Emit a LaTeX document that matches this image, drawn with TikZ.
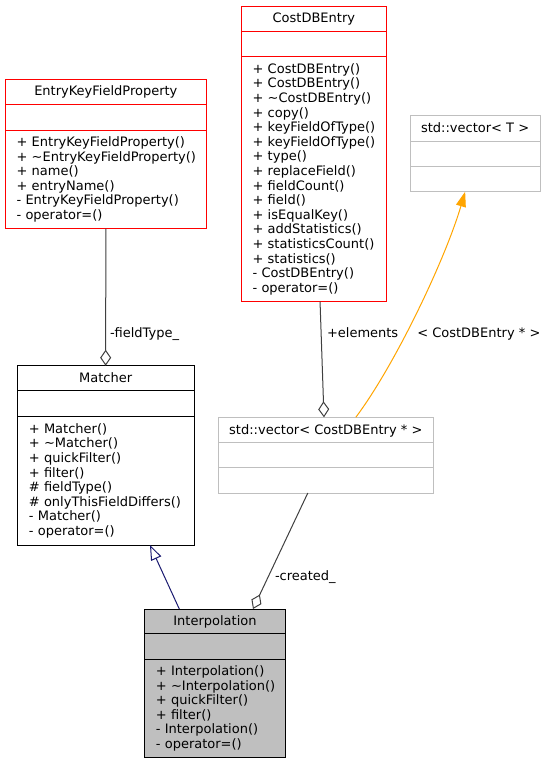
\documentclass[tikz,border=0pt]{standalone}
\usepackage{fontspec}
\setmainfont{DejaVu Sans}
\usetikzlibrary{arrows.meta}
\definecolor{edgegray}{HTML}{404040}
\definecolor{extgray}{HTML}{BFBFBF}
\definecolor{inhblue}{HTML}{191970}
\definecolor{tplorange}{HTML}{FFA500}
\definecolor{boxred}{HTML}{FF0000}
\begin{document}
\begin{tikzpicture}[x=1pt,y=-1pt,
  every node/.style={font=\fontsize{13}{14.6}\selectfont, inner sep=0pt, outer sep=0pt},
  secbase/.style={line width=1pt, anchor=north west},
  redsec/.style={secbase, draw=boxred},
  graysec/.style={secbase, draw=extgray},
  blacksec/.style={secbase, draw=black},
  cursec/.style={secbase, draw=black, fill=extgray},
  ttl/.style={text height=8pt, text depth=0pt},
  members/.style={align=left, inner xsep=11.5pt,
    execute at begin node={\hyphenpenalty=10000\exhyphenpenalty=10000\hbadness=10000\hfuzz=100pt}},
  lbl/.style={anchor=base west},
  assoc/.style={draw=edgegray, line width=1pt, -{Diamond[open, length=16pt, width=11pt]}},
  inh/.style={draw=inhblue, line width=1pt, -{Triangle[open, length=15pt, width=11pt]}},
  tpl/.style={draw=tplorange, line width=1pt, -{Triangle[length=15pt, width=10pt]}}
]
\fill[white] (0,0) rectangle (546,764);
\useasboundingbox (0,0) rectangle (546,764);

% EntryKeyFieldProperty
\node[redsec, ttl, minimum width=201.7pt, minimum height=25.3pt] (ekfpT) at (5,79) {EntryKeyFieldProperty};
\node[redsec, minimum width=201.7pt, minimum height=25.7pt] (ekfpA) at (5,104.3) {};
\node[redsec, members, text width=178.7pt, minimum height=98.7pt] (ekfpM) at (5,130) {%
+~EntryKeyFieldProperty()\\
+~\textasciitilde EntryKeyFieldProperty()\\
+~name()\\
+~entryName()\\
-~EntryKeyFieldProperty()\\
-~operator=()};

% CostDBEntry
\node[redsec, ttl, minimum width=145.7pt, minimum height=25.7pt] (cdbT) at (241,6) {CostDBEntry};
\node[redsec, minimum width=145.7pt, minimum height=25pt] (cdbA) at (241,31.7) {};
\node[redsec, members, text width=122.7pt, minimum height=245pt] (cdbM) at (241,56.7) {%
+~CostDBEntry()\\
+~CostDBEntry()\\
+~\textasciitilde CostDBEntry()\\
+~copy()\\
+~keyFieldOfType()\\
+~keyFieldOfType()\\
+~type()\\
+~replaceField()\\
+~fieldCount()\\
+~field()\\
+~isEqualKey()\\
+~addStatistics()\\
+~statisticsCount()\\
+~statistics()\\
-~CostDBEntry()\\
-~operator=()};

% std::vector< T >
\node[graysec, ttl, minimum width=129.7pt, minimum height=26pt] (vecTT) at (410.3,115.7) {std::vector<~T~>};
\node[graysec, minimum width=129.7pt, minimum height=25pt] (vecTA) at (410.3,141.7) {};
\node[graysec, minimum width=129.7pt, minimum height=25pt] (vecTM) at (410.3,166.7) {};

% Matcher
\node[blacksec, ttl, minimum width=176.7pt, minimum height=25pt] (matT) at (17.3,365.7) {Matcher};
\node[blacksec, minimum width=176.7pt, minimum height=26pt] (matA) at (17.3,390.7) {};
\node[blacksec, members, text width=153.7pt, minimum height=128.3pt] (matM) at (17.3,416.7) {%
+~Matcher()\\
+~\textasciitilde Matcher()\\
+~quickFilter()\\
+~filter()\\
\#~fieldType()\\
\#~onlyThisFieldDiffers()\\
-~Matcher()\\
-~operator=()};

% std::vector< CostDBEntry * >
\node[graysec, ttl, minimum width=215pt, minimum height=25.4pt] (vecCT) at (218.3,417.3) {std::vector<~CostDBEntry~*~>};
\node[graysec, minimum width=215pt, minimum height=25pt] (vecCA) at (218.3,442.7) {};
\node[graysec, minimum width=215pt, minimum height=25.3pt] (vecCM) at (218.3,467.7) {};

% Interpolation
\node[cursec, ttl, minimum width=141.4pt, minimum height=24.7pt] (intT) at (144.3,609) {Interpolation};
\node[cursec, minimum width=141.4pt, minimum height=25.3pt] (intA) at (144.3,633.7) {};
\node[cursec, members, text width=118.4pt, minimum height=98.7pt] (intM) at (144.3,659) {%
+~Interpolation()\\
+~\textasciitilde Interpolation()\\
+~quickFilter()\\
+~filter()\\
-~Interpolation()\\
-~operator=()};

% connectors
\draw[assoc] (ekfpM.south) -- (matT.north);
\node[lbl] (lft) at (110,337) {-fieldType\_};

\draw[assoc] ([xshift=6.2pt]cdbM.south) -- ([xshift=-1.8pt]vecCT.north);
\node[lbl] (lel) at (327,337) {+elements};

\draw[tpl] ([xshift=30pt]vecCT.north) .. controls (395,365) and (445,260) .. ([xshift=-10pt]vecTM.south);
\node[lbl] (ltp) at (417.3,337) {<~CostDBEntry~*~>};

\draw[assoc] ([xshift=-18pt]vecCM.south) -- ([xshift=38pt]intT.north);
\node[lbl] (lcr) at (275,580.7) {-created\_};

\draw[inh] ([xshift=-35.7pt]intT.north) -- ([xshift=44.3pt]matM.south);
\end{tikzpicture}
\end{document}
